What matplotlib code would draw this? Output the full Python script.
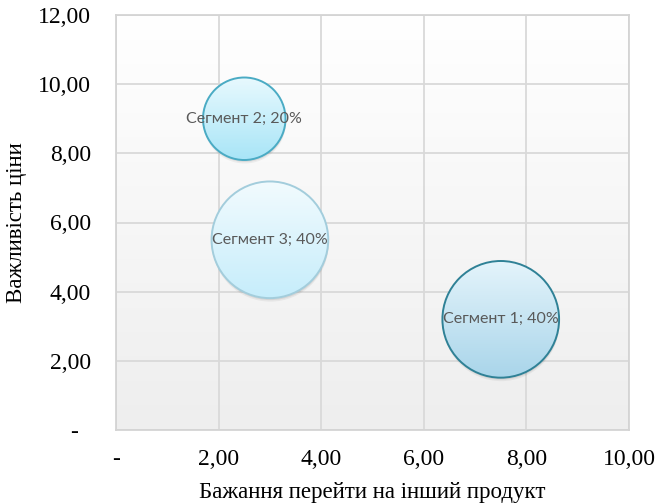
import numpy as np
import matplotlib
matplotlib.use("Agg")
import matplotlib.pyplot as plt
import matplotlib.transforms as mtransforms
from matplotlib.colors import LinearSegmentedColormap
from matplotlib.patches import Circle
from matplotlib.ticker import FixedLocator, FuncFormatter

# segment data: x = wish to switch, y = price importance, bubble = share
segments = ["Сегмент 1", "Сегмент 2", "Сегмент 3"]
switch_wish = [7.5, 2.5, 3.0]
price_importance = [3.2, 9.0, 5.5]
share_pct = [40, 20, 40]

x_ticks = [0, 2, 4, 6, 8, 10]
y_ticks = [0, 2, 4, 6, 8, 10, 12]

top_colors = ["#e4f4fb", "#e8f9fe", "#f2fbfe"]
bottom_colors = ["#a9d5ea", "#a8e5f7", "#c6edfb"]
edge_colors = ["#2f8196", "#4aabc4", "#a3cddc"]

SERIF = "Liberation Serif"
MAX_DIAM_PT = 84.0  # diameter of the largest bubble, points


def fmt_x(v, _pos):
    return "-" if v == 0 else f"{v:.2f}".replace(".", ",")


def fmt_y(v, _pos):
    return "-  " if v == 0 else f"{v:.2f}".replace(".", ",")


fig = plt.figure(figsize=(6.56, 5.04), dpi=100)
ax = fig.add_axes([116 / 656, 74 / 504, 513 / 656, 415 / 504])

# plot area: white at the top fading to light grey
bg = np.linspace(0, 1, 256).reshape(-1, 1)
bg_cmap = LinearSegmentedColormap.from_list("bg", ["#ffffff", "#eeeeee"])
ax.imshow(bg, extent=[0, 10, 0, 12], cmap=bg_cmap, aspect="auto",
          origin="upper", zorder=0)

grad = np.linspace(0, 1, 256).reshape(-1, 1)
max_share = max(share_pct)
for name, x, y, pct, top, bottom, edge in zip(segments, switch_wish, price_importance,
                                              share_pct, top_colors, bottom_colors,
                                              edge_colors):
    r = MAX_DIAM_PT * np.sqrt(pct / max_share) / 2 / 72  # radius, inches
    tr = fig.dpi_scale_trans + mtransforms.ScaledTranslation(x, y, ax.transData)

    # soft drop shadow
    for off, alpha in [(0.035, 0.05), (0.02, 0.07)]:
        ax.add_patch(Circle((0.005, -off), r, transform=tr, fc="#000000",
                            ec="none", alpha=alpha, zorder=2))

    clip = Circle((0, 0), r, transform=tr, fc="none", ec="none")
    ax.add_patch(clip)
    cmap = LinearSegmentedColormap.from_list(name, [top, bottom])
    im = ax.imshow(grad, extent=[-r, r, -r, r], cmap=cmap, transform=tr,
                   origin="upper", aspect="auto", zorder=3)
    im.set_clip_path(clip)
    ax.add_patch(Circle((0, 0), r, transform=tr, fc="none", ec=edge,
                        lw=1.4, zorder=4))
    ax.text(x, y, f"{name}; {pct}%", ha="center", va="center", color="#595959",
            fontsize=11.5, family="Lato", zorder=5)

ax.set_xlim(0, 10)
ax.set_ylim(0, 12)
ax.xaxis.set_major_locator(FixedLocator(x_ticks))
ax.yaxis.set_major_locator(FixedLocator(y_ticks))
ax.xaxis.set_major_formatter(FuncFormatter(fmt_x))
ax.yaxis.set_major_formatter(FuncFormatter(fmt_y))
ax.tick_params(axis="x", length=0, labelsize=17, pad=14)
ax.tick_params(axis="y", length=0, labelsize=17, pad=18)
for lab in ax.get_xticklabels() + ax.get_yticklabels():
    lab.set_fontfamily(SERIF)

ax.set_axisbelow(True)
ax.grid(color="#d9d9d9", lw=1.3)
for sp in ax.spines.values():
    sp.set_color("#d4d4d4")
    sp.set_linewidth(1.3)

ax.set_xlabel("Бажання перейти на інший продукт", fontsize=16.5, family=SERIF,
              labelpad=8)
ax.set_ylabel("Важливість ціни", fontsize=16.5, family=SERIF, labelpad=8)

fig.savefig("out.png", dpi=100)
